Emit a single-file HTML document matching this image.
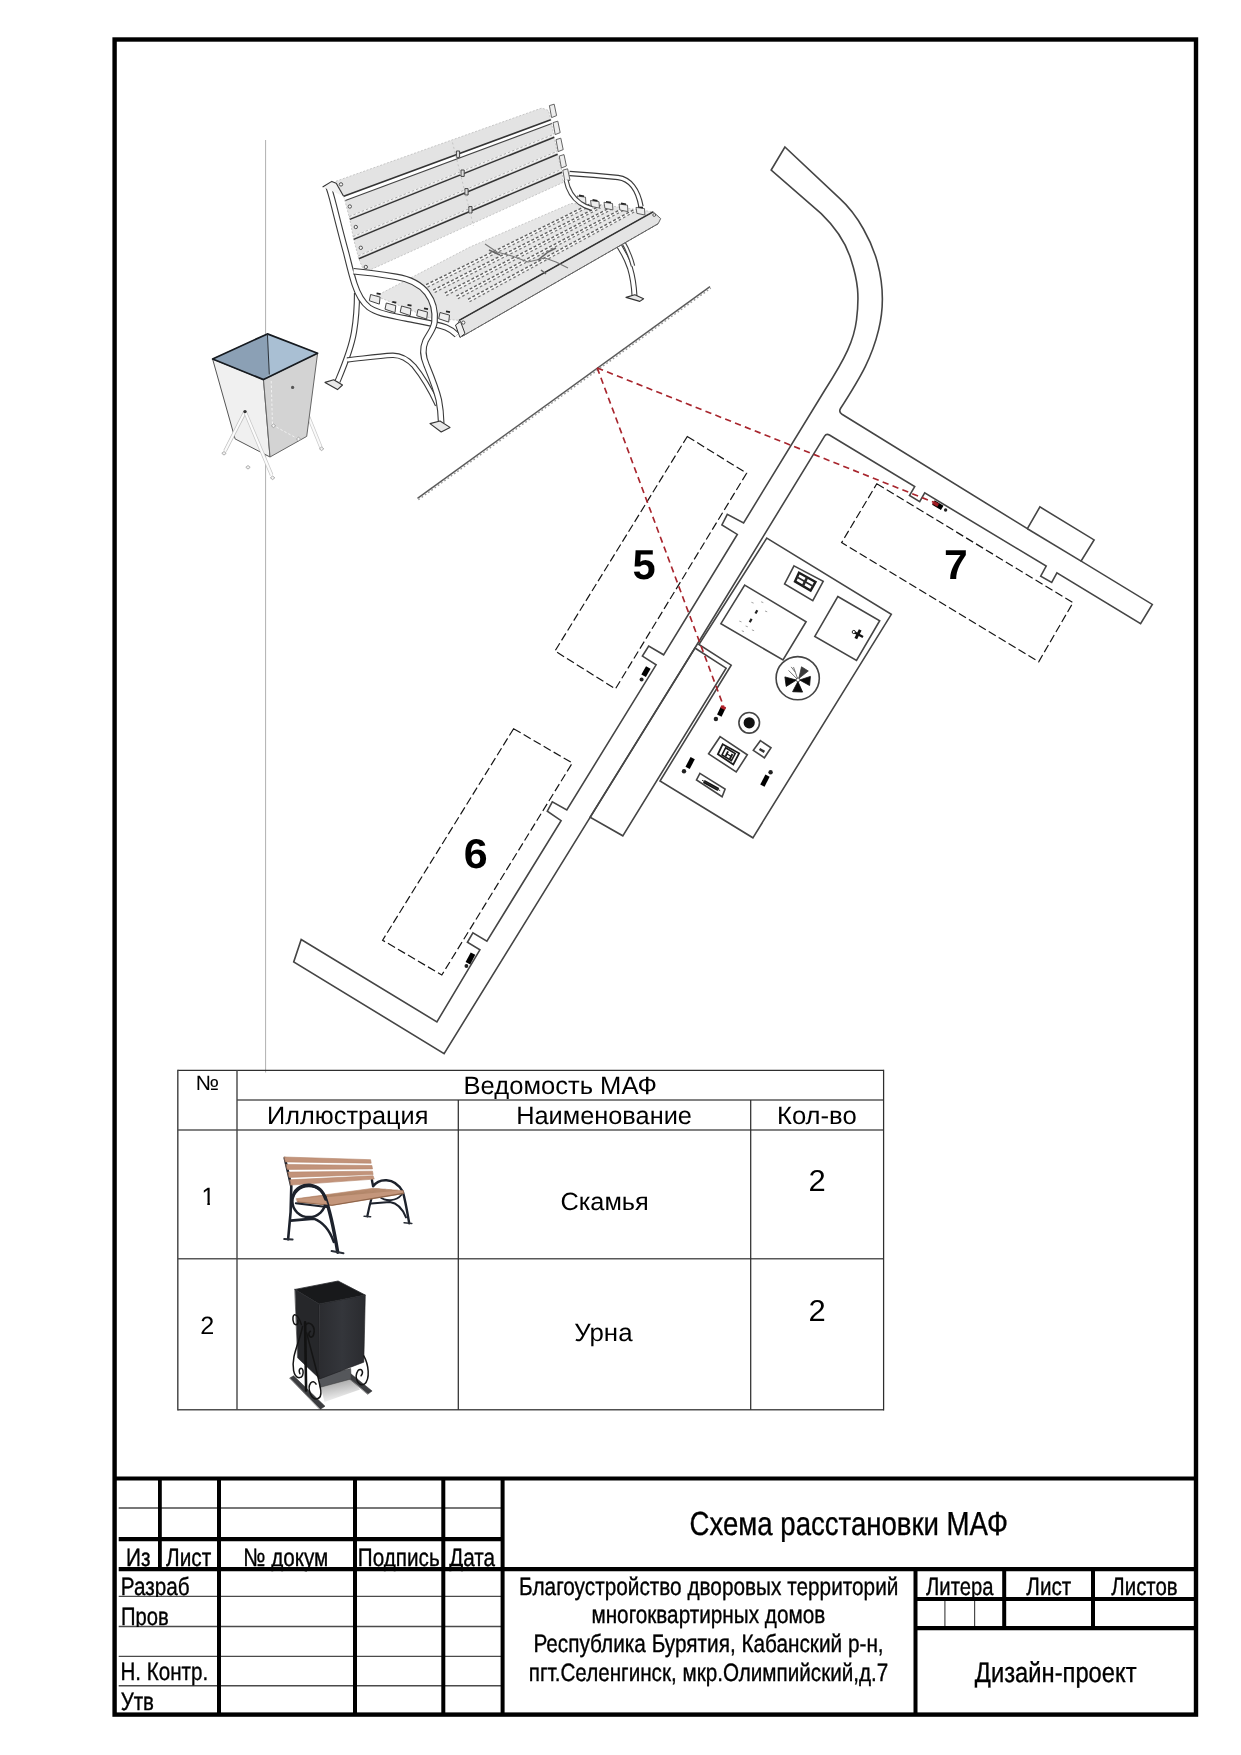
<!DOCTYPE html>
<html lang="ru">
<head>
<meta charset="utf-8">
<title>Схема расстановки МАФ</title>
<style>
html,body{margin:0;padding:0;background:#fff;}
body{width:1241px;height:1755px;overflow:hidden;}
svg{display:block;font-family:"Liberation Sans",sans-serif;will-change:transform;}
</style>
</head>
<body>
<svg width="1241" height="1755" viewBox="0 0 1241 1755">
<rect x="0" y="0" width="1241" height="1755" fill="#fff"/>
<!-- parts_sketch -->
<g stroke-linejoin="round">
<line x1="265.6" y1="140" x2="265.6" y2="1072.5" stroke="#b0b0b0" stroke-width="1.0"/>
<path d="M612 236 C620 246 626 256 630 268 C633 278 634 286 634.5 296" fill="none" stroke="#3c3c3c" stroke-width="6.0" stroke-linecap="butt" stroke-linejoin="round"/>
<path d="M612 236 C620 246 626 256 630 268 C633 278 634 286 634.5 296" fill="none" stroke="#fff" stroke-width="3.80" stroke-linecap="butt" stroke-linejoin="round"/>
<path d="M622 240 C628 250 631 258 633 266" fill="none" stroke="#444" stroke-width="4.5" stroke-linecap="butt" stroke-linejoin="round"/>
<path d="M622 240 C628 250 631 258 633 266" fill="none" stroke="#fff" stroke-width="2.30" stroke-linecap="butt" stroke-linejoin="round"/>
<path d="M626.0 297.4 L634.8 294.8 L643.6 298.7 L639.8 301.4 Z" stroke="#333" stroke-width="1.1" fill="#e8e8e8"/>
<path d="M336.0 181.2 L541.8 108.0 L548.5 110.5 L550.8 119.8 L554.2 137.3 L557.6 154.3 L562.0 172.3 L563.0 182.5 L364.5 272.5 L358.8 258.8 L353.7 239.4 L349.8 219.4 L343.8 196.3 Z" stroke="#bdbdbd" stroke-width="0.8" fill="#e3e3e3" stroke-dasharray="2 1.6"/>
<path d="M343.8 196.3 L550.8 119.8 L551.8 123.6 L345.4 200.6 Z" stroke="#fff" stroke-width="0.1" fill="#fff"/>
<line x1="343.8" y1="196.3" x2="550.8" y2="119.8" stroke="#333" stroke-width="1.5"/>
<line x1="345.4" y1="200.6" x2="551.8" y2="123.6" stroke="#444" stroke-width="1.1"/>
<line x1="349.2" y1="216.8" x2="553.6" y2="134.70000000000002" stroke="#f6f6f6" stroke-width="1.6"/>
<line x1="349.2" y1="216.5" x2="553.6" y2="134.4" stroke="#9a9a9a" stroke-width="0.8" stroke-dasharray="2.5 2"/>
<line x1="349.8" y1="219.4" x2="554.2" y2="137.3" stroke="#333" stroke-width="1.5"/>
<line x1="353.09999999999997" y1="236.8" x2="557.0" y2="151.70000000000002" stroke="#f6f6f6" stroke-width="1.6"/>
<line x1="353.09999999999997" y1="236.5" x2="557.0" y2="151.4" stroke="#9a9a9a" stroke-width="0.8" stroke-dasharray="2.5 2"/>
<line x1="353.7" y1="239.4" x2="557.6" y2="154.3" stroke="#333" stroke-width="1.5"/>
<line x1="358.2" y1="256.2" x2="561.4" y2="169.70000000000002" stroke="#f6f6f6" stroke-width="1.6"/>
<line x1="358.2" y1="255.9" x2="561.4" y2="169.4" stroke="#9a9a9a" stroke-width="0.8" stroke-dasharray="2.5 2"/>
<line x1="358.8" y1="258.8" x2="562.0" y2="172.3" stroke="#333" stroke-width="1.5"/>
<rect x="456.4" y="151.0" width="3.2" height="6.4" fill="#ddd" stroke="#444" stroke-width="1"/>
<rect x="461.0" y="170.0" width="3.2" height="6.4" fill="#ddd" stroke="#444" stroke-width="1"/>
<rect x="464.9" y="188.60000000000002" width="3.2" height="6.4" fill="#ddd" stroke="#444" stroke-width="1"/>
<rect x="468.79999999999995" y="206.60000000000002" width="3.2" height="6.4" fill="#ddd" stroke="#444" stroke-width="1"/>
<line x1="452.5" y1="142.5" x2="473.5" y2="226.0" stroke="#bbb" stroke-width="0.8" stroke-dasharray="2 2.5"/>
<path d="M549.4 105.6 L554.2 104.2 L556.6 115.6 L551.6 117.6 Z" fill="#eee" stroke="#555" stroke-width="0.9"/>
<path d="M553.0 122.6 L557.8 121.2 L560.2 132.6 L555.2 134.6 Z" fill="#eee" stroke="#555" stroke-width="0.9"/>
<path d="M556.0 139.6 L560.8 138.2 L563.2 149.6 L558.2 151.6 Z" fill="#eee" stroke="#555" stroke-width="0.9"/>
<path d="M559.2 156.0 L564.0 154.6 L566.4 166.0 L561.4 168.0 Z" fill="#eee" stroke="#555" stroke-width="0.9"/>
<path d="M562.8 170.2 L567.6 168.8 L570.0 180.2 L565.0 182.2 Z" fill="#eee" stroke="#555" stroke-width="0.9"/>
<circle cx="341.0" cy="184.4" r="1.7" fill="#f4f4f4" stroke="#444" stroke-width="0.9"/>
<circle cx="349.8" cy="206.5" r="1.7" fill="#f4f4f4" stroke="#444" stroke-width="0.9"/>
<circle cx="355.8" cy="227.0" r="1.7" fill="#f4f4f4" stroke="#444" stroke-width="0.9"/>
<circle cx="360.8" cy="247.8" r="1.7" fill="#f4f4f4" stroke="#444" stroke-width="0.9"/>
<circle cx="365.8" cy="267.0" r="1.7" fill="#f4f4f4" stroke="#444" stroke-width="0.9"/>
<path d="M376.0 296.0 L470.0 247.0 L571.0 203.5 L600.0 204.5 L653.1 211.8 L658.2 223.7 L462.4 336.2 L459.1 320.4 L430.0 318.0 Z" stroke="#bdbdbd" stroke-width="0.8" fill="#e6e6e6" stroke-dasharray="2 1.6"/>
<line x1="421.5512" y1="287.92212" x2="589.062" y2="205.326" stroke="#f7f7f7" stroke-width="2.6"/>
<line x1="421.5512" y1="286.92212" x2="589.062" y2="204.326" stroke="#606060" stroke-width="1.4" stroke-dasharray="3 2"/>
<line x1="423.0512" y1="289.42212" x2="589.062" y2="206.826" stroke="#757575" stroke-width="1.2" stroke-dasharray="2.6 2.4"/>
<line x1="433.1656" y1="291.02256" x2="600.556" y2="206.488" stroke="#f7f7f7" stroke-width="2.6"/>
<line x1="433.1656" y1="290.02256" x2="600.556" y2="205.488" stroke="#606060" stroke-width="1.4" stroke-dasharray="3 2"/>
<line x1="434.6656" y1="292.52256" x2="600.556" y2="207.988" stroke="#757575" stroke-width="1.2" stroke-dasharray="2.6 2.4"/>
<line x1="444.78000000000003" y1="294.123" x2="612.05" y2="207.65" stroke="#f7f7f7" stroke-width="2.6"/>
<line x1="444.78000000000003" y1="293.123" x2="612.05" y2="206.65" stroke="#606060" stroke-width="1.4" stroke-dasharray="3 2"/>
<line x1="446.28000000000003" y1="295.623" x2="612.05" y2="209.15" stroke="#757575" stroke-width="1.2" stroke-dasharray="2.6 2.4"/>
<line x1="456.3944" y1="297.22344" x2="623.544" y2="208.812" stroke="#f7f7f7" stroke-width="2.6"/>
<line x1="456.3944" y1="296.22344" x2="623.544" y2="207.812" stroke="#606060" stroke-width="1.4" stroke-dasharray="3 2"/>
<line x1="457.8944" y1="298.72344" x2="623.544" y2="210.312" stroke="#757575" stroke-width="1.2" stroke-dasharray="2.6 2.4"/>
<line x1="468.00880000000006" y1="300.32388" x2="635.038" y2="209.97400000000002" stroke="#f7f7f7" stroke-width="2.6"/>
<line x1="468.00880000000006" y1="299.32388" x2="635.038" y2="208.97400000000002" stroke="#606060" stroke-width="1.4" stroke-dasharray="3 2"/>
<line x1="469.50880000000006" y1="301.82388" x2="635.038" y2="211.47400000000002" stroke="#757575" stroke-width="1.2" stroke-dasharray="2.6 2.4"/>
<path d="M459.1 320.4 L653.1 211.8 L660.7 218.6 L658.2 223.7 L462.4 336.2 L456.5 327.5 Z" stroke="#555" stroke-width="0.9" fill="#e4e4e4"/>
<line x1="459.1" y1="320.4" x2="653.1" y2="211.8" stroke="#333" stroke-width="1.5"/>
<line x1="462.4" y1="336.2" x2="658.2" y2="223.7" stroke="#666" stroke-width="1.0" stroke-dasharray="3 1.2"/>
<circle cx="463.3" cy="322.6" r="1.6" fill="#fff" stroke="#444" stroke-width="0.9"/>
<circle cx="654.2" cy="215.0" r="1.4" fill="#fff" stroke="#444" stroke-width="0.9"/>
<path d="M485 244 L497 252 L512 256 L528 262 L545 258 L556 262 L568 268" stroke="#777" stroke-width="1.1" fill="none"/>
<path d="M489 250 L500 255 M538 260 L548 252 L556 248 M541 270 L546 274" stroke="#666" stroke-width="1.6" fill="none"/>
<path d="M370.6 294.5 l9.5 2.6 l-0.8 7 l-10 -3.4 Z" fill="#ededed" stroke="#444" stroke-width="1"/>
<path d="M376.6 293.3 l4 0.8" stroke="#222" stroke-width="1.8" fill="none"/>
<path d="M386.3 303.0 l9.5 2.6 l-0.8 7 l-10 -3.4 Z" fill="#ededed" stroke="#444" stroke-width="1"/>
<path d="M392.3 301.8 l4 0.8" stroke="#222" stroke-width="1.8" fill="none"/>
<path d="M401.5 306.0 l9.5 2.6 l-0.8 7 l-10 -3.4 Z" fill="#ededed" stroke="#444" stroke-width="1"/>
<path d="M407.5 304.8 l4 0.8" stroke="#222" stroke-width="1.8" fill="none"/>
<path d="M418.0 309.5 l9.5 2.6 l-0.8 7 l-10 -3.4 Z" fill="#ededed" stroke="#444" stroke-width="1"/>
<path d="M424.0 308.3 l4 0.8" stroke="#222" stroke-width="1.8" fill="none"/>
<path d="M440.0 312.5 l9.5 2.6 l-0.8 7 l-10 -3.4 Z" fill="#ededed" stroke="#444" stroke-width="1"/>
<path d="M446.0 311.3 l4 0.8" stroke="#222" stroke-width="1.8" fill="none"/>
<path d="M577.0 196.0 l8.5 1.2 l0.4 6.4 l-8 -1.6 Z" fill="#ededed" stroke="#555" stroke-width="0.9"/>
<path d="M579.0 195.4 l5 0.8" stroke="#222" stroke-width="1.6" fill="none"/>
<path d="M590.5 200.5 l8.5 1.2 l0.4 6.4 l-8 -1.6 Z" fill="#ededed" stroke="#555" stroke-width="0.9"/>
<path d="M592.5 199.9 l5 0.8" stroke="#222" stroke-width="1.6" fill="none"/>
<path d="M604.0 202.3 l8.5 1.2 l0.4 6.4 l-8 -1.6 Z" fill="#ededed" stroke="#555" stroke-width="0.9"/>
<path d="M606.0 201.7 l5 0.8" stroke="#222" stroke-width="1.6" fill="none"/>
<path d="M619.0 204.0 l8.5 1.2 l0.4 6.4 l-8 -1.6 Z" fill="#ededed" stroke="#555" stroke-width="0.9"/>
<path d="M621.0 203.4 l5 0.8" stroke="#222" stroke-width="1.6" fill="none"/>
<path d="M636.0 207.4 l8.5 1.2 l0.4 6.4 l-8 -1.6 Z" fill="#ededed" stroke="#555" stroke-width="0.9"/>
<path d="M638.0 206.8 l5 0.8" stroke="#222" stroke-width="1.6" fill="none"/>
<path d="M566 180 C568 190 573 198 580 203 C584 206 588 207.5 592 208.5" fill="none" stroke="#444" stroke-width="5.0" stroke-linecap="butt" stroke-linejoin="round"/>
<path d="M566 180 C568 190 573 198 580 203 C584 206 588 207.5 592 208.5" fill="none" stroke="#fff" stroke-width="2.80" stroke-linecap="butt" stroke-linejoin="round"/>
<path d="M569.5 173.5 C585 174.5 603 176 618 177.5 C630 179 638 190 641 206.5" fill="none" stroke="#3a3a3a" stroke-width="5.4" stroke-linecap="butt" stroke-linejoin="round"/>
<path d="M569.5 173.5 C585 174.5 603 176 618 177.5 C630 179 638 190 641 206.5" fill="none" stroke="#fff" stroke-width="3.20" stroke-linecap="butt" stroke-linejoin="round"/>
<path d="M357 293 C357 306 356 320 354 332 C351 350 344 366 337.5 381.5" fill="none" stroke="#3a3a3a" stroke-width="6.2" stroke-linecap="butt" stroke-linejoin="round"/>
<path d="M357 293 C357 306 356 320 354 332 C351 350 344 366 337.5 381.5" fill="none" stroke="#fff" stroke-width="4.00" stroke-linecap="butt" stroke-linejoin="round"/>
<path d="M325.0 382.4 L333.7 379.8 L342.5 385.0 L337.5 389.6 Z" stroke="#333" stroke-width="1.1" fill="#e8e8e8"/>
<path d="M347 360 C362 358.5 378 356 392.4 355.3 C402 355 408 359.5 414 366 C423 377 430 389 437.5 405" fill="none" stroke="#3a3a3a" stroke-width="5.4" stroke-linecap="butt" stroke-linejoin="round"/>
<path d="M347 360 C362 358.5 378 356 392.4 355.3 C402 355 408 359.5 414 366 C423 377 430 389 437.5 405" fill="none" stroke="#fff" stroke-width="3.20" stroke-linecap="butt" stroke-linejoin="round"/>
<path d="M327.5 184.5 C330 190 332 198 334 206 C338 222 342 238 346.2 253 C349 264 351 273 354.5 284 C358 295 362 302 369 307.5 C378 314 392 315.5 406 318.5 C420 321.5 434 323 446 327.5 C451 329.5 454 332 457 335" fill="none" stroke="#3a3a3a" stroke-width="6.4" stroke-linecap="butt" stroke-linejoin="round"/>
<path d="M327.5 184.5 C330 190 332 198 334 206 C338 222 342 238 346.2 253 C349 264 351 273 354.5 284 C358 295 362 302 369 307.5 C378 314 392 315.5 406 318.5 C420 321.5 434 323 446 327.5 C451 329.5 454 332 457 335" fill="none" stroke="#fff" stroke-width="4.20" stroke-linecap="butt" stroke-linejoin="round"/>
<path d="M322.6 187.0 L331.8 181.4 L336.2 183.2 L343.6 196.2" stroke="#333" stroke-width="1.1" fill="#f2f2f2"/>
<path d="M353.5 271.3 C368 272.5 382 274.5 396 276.8 C410 279 420 284 427 293 C433 301 435.5 312 434.5 322 C433.8 329 429 334 425.5 341 C422 349 423 357 426.5 365 C431 376 436 388 438.8 400 C440.4 408 441 415 441.2 423" fill="none" stroke="#3a3a3a" stroke-width="6.6" stroke-linecap="butt" stroke-linejoin="round"/>
<path d="M353.5 271.3 C368 272.5 382 274.5 396 276.8 C410 279 420 284 427 293 C433 301 435.5 312 434.5 322 C433.8 329 429 334 425.5 341 C422 349 423 357 426.5 365 C431 376 436 388 438.8 400 C440.4 408 441 415 441.2 423" fill="none" stroke="#fff" stroke-width="4.40" stroke-linecap="butt" stroke-linejoin="round"/>
<path d="M430.0 423.6 L440.0 421.0 L450.0 427.4 L441.2 432.0 Z" stroke="#333" stroke-width="1.1" fill="#e8e8e8"/>
<path d="M455.5 325.0 L460.5 321.5 L465.0 333.5 L460.0 337.5 Z" stroke="#333" stroke-width="1.0" fill="#f0f0f0"/>
<path d="M308.6 417 L321.0 447.5" fill="none" stroke="#c9c9c9" stroke-width="3.4" stroke-linecap="butt" stroke-linejoin="round"/>
<path d="M308.6 417 L321.0 447.5" fill="none" stroke="#fafafa" stroke-width="2.00" stroke-linecap="butt" stroke-linejoin="round"/>
<path d="M212.6 359.0 L263.5 379.6 L270.0 457.0 L235.1 438.9 Z" stroke="#555" stroke-width="1.0" fill="#f0f0f0"/>
<path d="M263.5 379.6 L317.6 353.2 L306.7 436.4 L270.0 457.0 Z" stroke="#666" stroke-width="1.0" fill="#d3d3d3"/>
<path d="M271.2 381 L272.5 425 M272.5 425 L300 440" stroke="#f3f3f3" stroke-width="0.9" fill="none" stroke-dasharray="2.5 2"/>
<path d="M212.6 359.0 L267.4 333.9 L269.3 374.5 L263.5 379.6 Z" stroke="#7f93a6" stroke-width="0.6" fill="#8ba0b5"/>
<path d="M267.4 333.9 L317.6 353.2 L263.5 379.6 L269.3 374.5 Z" stroke="#9fb5c8" stroke-width="0.6" fill="#a9bfd3"/>
<path d="M212.6 359.0 L267.4 333.9 L317.6 353.2 L263.5 379.6 Z" stroke="#161a1f" stroke-width="1.7" fill="none"/>
<line x1="267.4" y1="333.9" x2="269.3" y2="374.5" stroke="#2a3138" stroke-width="1.0"/>
<path d="M244.6 412.6 L225.0 451.0" fill="none" stroke="#bdbdbd" stroke-width="3.6" stroke-linecap="butt" stroke-linejoin="round"/>
<path d="M244.6 412.6 L225.0 451.0" fill="none" stroke="#fbfbfb" stroke-width="2.20" stroke-linecap="butt" stroke-linejoin="round"/>
<path d="M245.4 412.6 L271.6 475.0" fill="none" stroke="#c4c4c4" stroke-width="3.6" stroke-linecap="butt" stroke-linejoin="round"/>
<path d="M245.4 412.6 L271.6 475.0" fill="none" stroke="#fbfbfb" stroke-width="2.20" stroke-linecap="butt" stroke-linejoin="round"/>
<circle cx="245.0" cy="411.6" r="1.7" fill="#333"/>
<circle cx="292.6" cy="387.4" r="1.6" fill="#555"/>
<path d="M221.8 453.3 l2.2 -1.8 l2.2 1.8 l-2.2 1.8 Z" fill="#f4f4f4" stroke="#999" stroke-width="0.8"/>
<path d="M270.4 477.8 l2.2 -1.8 l2.2 1.8 l-2.2 1.8 Z" fill="#f4f4f4" stroke="#999" stroke-width="0.8"/>
<path d="M319.4 448.8 l2.2 -1.8 l2.2 1.8 l-2.2 1.8 Z" fill="#f4f4f4" stroke="#999" stroke-width="0.8"/>
<path d="M245.8 467.3 l2.2 -1.8 l2.2 1.8 l-2.2 1.8 Z" fill="#f4f4f4" stroke="#999" stroke-width="0.8"/>
<path d="M271.3 425.8 l2.2 -1.8 l2.2 1.8 l-2.2 1.8 Z" fill="#f4f4f4" stroke="#999" stroke-width="0.8"/>
<path d="M296.3 439.0 l2.2 -1.8 l2.2 1.8 l-2.2 1.8 Z" fill="#f4f4f4" stroke="#999" stroke-width="0.8"/>
</g>
<!-- parts_map -->
<line x1="417.5" y1="498.3" x2="710.0" y2="286.7" stroke="#5a5a5a" stroke-width="1.5"/>
<line x1="418.4" y1="499.7" x2="710.8" y2="288.1" stroke="#9a9a9a" stroke-width="1.4" stroke-dasharray="1.7 2.3"/>
<path d="M771.2 170 L784.9 147 L839.9 198.7 C858 215 872 242 877.4 262.4 C884 287 884 308 878.6 329.9 C872 357 862 375 840.5 408.5 Q838.5 412 842 414.3 L1027.4 528.7 L1039.9 506.9 L1094.1 539.9 L1081.1 561.1 L1152.3 604.4 L1140.6 623.6 L1056.9 572.9 L1051.7 582.4 L1040.7 576.1 L1046.2 566.1 L924.7 492.9 L919.7 501.6 L909.5 495.5 L914.7 486.6 L829.4 435.0 Q826.4 433.2 824.6 436.2 L694.9 648 L590.1 817.3 L444.1 1053.6 L293.7 961.9 L301.2 939.5 L436.9 1021.9 L479.9 949.8 L467.4 942.3 L472.9 932.8 L486.9 941.1 L561.1 820.7 L547.3 811.2 L552.3 801.9 L566.8 809.9 L656.1 664.8 L642.4 656.1 L648.7 646.1 L663.6 654.8 L737.3 534.4 L721.9 524.9 L727.3 514.4 L743.6 522.9 L824.9 390 C846 357 854 340 856.5 320 C859.5 296 858 281 851.1 259.9 C845 240 834 226 821.2 213.7 Z" stroke="#454545" stroke-width="1.6" fill="none"/>
<line x1="1027.4" y1="528.7" x2="1081.1" y2="561.1" stroke="#454545" stroke-width="1.6"/>
<path d="M694.9 648.0 L726.1 668.2 L622.8 835.8 L590.1 817.3 Z" stroke="#454545" stroke-width="1.6" fill="none"/>
<path d="M766.8 538.1 L891.3 614.3 L752.9 837.8 L660.0 781.0 L731.2 665.2 L698.9 644.5 Z" stroke="#454545" stroke-width="1.6" fill="none"/>
<path d="M744.7 585.1 L806.1 621.7 L783.0 660.0 L720.9 623.7 Z" stroke="#454545" stroke-width="1.6" fill="none"/>
<path d="M837.8 596.5 L879.7 620.7 L856.5 660.4 L814.8 636.4 Z" stroke="#454545" stroke-width="1.6" fill="none"/>
<path d="M794.0 565.9 L823.2 581.4 L812.8 600.6 L784.6 584.0 Z" stroke="#454545" stroke-width="1.6" fill="none"/>
<circle cx="797.7" cy="678.2" r="21.6" fill="#fff" stroke="#454545" stroke-width="1.6"/>
<circle cx="749.2" cy="722.8" r="10.3" fill="#fff" stroke="#454545" stroke-width="1.6"/>
<circle cx="749.2" cy="722.8" r="5.6" fill="#111"/>
<path d="M720.1 736.7 L747.3 754.8 L736.2 772.0 L708.6 753.8 Z" stroke="#454545" stroke-width="1.6" fill="none"/>
<path d="M760.4 740.7 L771.0 747.8 L764.4 757.8 L753.3 750.4 Z" stroke="#454545" stroke-width="1.6" fill="none"/>
<path d="M699.9 773.4 L725.1 789.1 L722.1 796.7 L696.5 780.0 Z" stroke="#454545" stroke-width="1.6" fill="none"/>
<line x1="723.4" y1="707.2" x2="719.3" y2="715.6" stroke="#000" stroke-width="5.0"/>
<line x1="723.9" y1="706.2" x2="722.6" y2="708.9" stroke="#b3202a" stroke-width="5.0"/>
<circle cx="715.9" cy="719.0" r="2.2" fill="#222"/>
<line x1="692.7" y1="758.2" x2="687.6" y2="767.8" stroke="#000" stroke-width="4.8"/>
<circle cx="684.0" cy="771.3" r="2.2" fill="#222"/>
<line x1="767.5" y1="775.6" x2="762.4" y2="785.7" stroke="#000" stroke-width="4.8"/>
<circle cx="770.6" cy="772.2" r="2.2" fill="#222"/>
<line x1="648.3" y1="667.4" x2="643.6" y2="675.8" stroke="#000" stroke-width="5.2"/>
<circle cx="641.6" cy="679.6" r="2.0" fill="#222"/>
<line x1="473.0" y1="953.6" x2="467.9" y2="963.2" stroke="#000" stroke-width="5.2"/>
<circle cx="466.4" cy="966.0" r="1.9" fill="#222"/>
<line x1="933.4" y1="502.5" x2="942.2" y2="507.8" stroke="#000" stroke-width="5.0"/>
<line x1="933.0" y1="502.2" x2="938.2" y2="505.3" stroke="#9e1b22" stroke-width="3.4"/>
<circle cx="945.6" cy="510.0" r="1.7" fill="#222"/>
<path d="M799.0 572.7 L815.5 581.9 L810.6 590.6 L795.0 581.4 Z" stroke="#1c1c1c" stroke-width="2.4" fill="none"/>
<line x1="807.2" y1="577.3" x2="802.8" y2="586.0" stroke="#2a2a2a" stroke-width="2.6"/>
<line x1="797.0" y1="577.0" x2="813.0" y2="586.2" stroke="#2a2a2a" stroke-width="1.8"/>
<line x1="853.0" y1="631.5" x2="863.0" y2="637.0" stroke="#111" stroke-width="2.4"/>
<line x1="860.2" y1="629.8" x2="855.8" y2="638.6" stroke="#111" stroke-width="3.0"/>
<circle cx="853.8" cy="632.0" r="1.6" fill="#fff" stroke="#111" stroke-width="0.9"/>
<line x1="757.3" y1="610.2" x2="755.5" y2="613.6" stroke="#222" stroke-width="2.2"/>
<line x1="751.6" y1="618.9" x2="749.7" y2="622.3" stroke="#222" stroke-width="2.2"/>
<line x1="751.4" y1="602.3000000000001" x2="753.6" y2="603.1" stroke="#999" stroke-width="0.9"/>
<line x1="761.1" y1="601.8000000000001" x2="763.3000000000001" y2="602.6" stroke="#999" stroke-width="0.9"/>
<line x1="765.0" y1="611.0" x2="767.2" y2="611.8" stroke="#999" stroke-width="0.9"/>
<line x1="739.3" y1="621.1" x2="741.5" y2="621.9" stroke="#999" stroke-width="0.9"/>
<line x1="745.6" y1="626.0" x2="747.8000000000001" y2="626.8" stroke="#999" stroke-width="0.9"/>
<line x1="751.9" y1="629.9" x2="754.1" y2="630.6999999999999" stroke="#999" stroke-width="0.9"/>
<line x1="741.8" y1="630.8000000000001" x2="744.0" y2="631.6" stroke="#999" stroke-width="0.9"/>
<path d="M797.9 681.5 L792.6 691.7 L802.6 692.1 Z" stroke="#0a0a0a" stroke-width="0.8" fill="#0a0a0a"/>
<path d="M796.4 680.1 L784.9 676.9 L786.2 686.4 Z" stroke="#0a0a0a" stroke-width="0.8" fill="#0a0a0a"/>
<path d="M799.6 680.0 L809.6 685.5 L810.4 676.4 Z" stroke="#0a0a0a" stroke-width="0.8" fill="#0a0a0a"/>
<path d="M798.8 678.5 L808.3 671.0 L801.5 666.8 Z" stroke="#3a3a3a" stroke-width="0.8" fill="#3a3a3a"/>
<path d="M798.0 679.9 L793.5 667.1 M795.0 671.9 L791.2 666.9 M798.0 679.9 L788.5 670.4" stroke="#555" stroke-width="0.8" fill="none"/>
<circle cx="798.0" cy="679.9" r="1.9" fill="#fff" stroke="#222" stroke-width="0.7"/>
<path d="M722.7 744.2 L739.1 753.3 L733.3 764.5 L717.9 754.3 Z" stroke="#1a1a1a" stroke-width="1.8" fill="none"/>
<path d="M725.6 747.8 L735.2 753.6 L731.4 760.6 L722.0 754.9 Z" stroke="#1a1a1a" stroke-width="1.6" fill="none"/>
<line x1="728.0" y1="751.4" x2="725.6" y2="756.3" stroke="#1a1a1a" stroke-width="1.9"/>
<line x1="732.4" y1="754.0" x2="729.8" y2="759.0" stroke="#1a1a1a" stroke-width="1.9"/>
<line x1="726.8" y1="753.8" x2="731.2" y2="756.5" stroke="#1a1a1a" stroke-width="1.3"/>
<line x1="759.5" y1="749.0" x2="764.4" y2="751.9" stroke="#333" stroke-width="2.6"/>
<line x1="703.8" y1="781.4" x2="718.4" y2="789.6" stroke="#111" stroke-width="3.4"/>
<line x1="702.0" y1="780.2" x2="720.2" y2="790.7" stroke="#333" stroke-width="1.0"/>
<path d="M687.3 436.5 L746.6 473.2 L615.4 688.9 L555.0 651.0 Z" stroke="#151515" stroke-width="1.2" fill="none" stroke-dasharray="8.2 3.4"/>
<path d="M876.8 483.8 L1073.0 602.6 L1038.7 661.8 L841.6 542.6 Z" stroke="#151515" stroke-width="1.2" fill="none" stroke-dasharray="8.2 3.4"/>
<path d="M513.6 728.7 L572.3 763.0 L441.8 975.0 L382.6 940.2 Z" stroke="#151515" stroke-width="1.2" fill="none" stroke-dasharray="8.2 3.4"/>
<line x1="597.2" y1="367.9" x2="934.0" y2="502.4" stroke="#a8252d" stroke-width="1.65" stroke-dasharray="6.3 4.3"/>
<line x1="597.2" y1="367.9" x2="723.6" y2="706.4" stroke="#a8252d" stroke-width="1.65" stroke-dasharray="6.3 4.3"/>
<text transform="translate(632.46 579) scale(0.9977 1)" font-size="41.67" font-weight="bold" fill="#000" text-rendering="geometricPrecision">5</text>
<text transform="translate(944.12 579) scale(1.0239 1)" font-size="41.67" font-weight="bold" fill="#000" text-rendering="geometricPrecision">7</text>
<text transform="translate(463.80 868) scale(1.0335 1)" font-size="41.67" font-weight="bold" fill="#000" text-rendering="geometricPrecision">6</text>
<!-- parts_table -->
<line x1="237.0" y1="1100.0" x2="883.6" y2="1100.0" stroke="#585858" stroke-width="1.6"/>
<line x1="177.8" y1="1130.0" x2="883.6" y2="1130.0" stroke="#585858" stroke-width="1.6"/>
<line x1="177.8" y1="1258.8" x2="883.6" y2="1258.8" stroke="#585858" stroke-width="1.6"/>
<line x1="177.8" y1="1409.8" x2="883.6" y2="1409.8" stroke="#505050" stroke-width="1.6"/>
<line x1="177.8" y1="1070.3" x2="883.6" y2="1070.3" stroke="#2e2e2e" stroke-width="1.25"/>
<line x1="177.8" y1="1069.7" x2="177.8" y2="1410.6" stroke="#4a4a4a" stroke-width="1.5"/>
<line x1="883.6" y1="1069.7" x2="883.6" y2="1410.6" stroke="#2e2e2e" stroke-width="1.25"/>
<line x1="237.0" y1="1070.3" x2="237.0" y2="1409.8" stroke="#454545" stroke-width="1.4"/>
<line x1="458.3" y1="1100.0" x2="458.3" y2="1409.8" stroke="#2e2e2e" stroke-width="1.25"/>
<line x1="750.7" y1="1100.0" x2="750.7" y2="1409.8" stroke="#2e2e2e" stroke-width="1.25"/>
<text transform="translate(195.61 1090) scale(1.0570 1)" font-size="20.83" fill="#000" text-rendering="geometricPrecision">№</text>
<text transform="translate(463.54 1094) scale(1.0226 1)" font-size="25" fill="#000" text-rendering="geometricPrecision">Ведомость МАФ</text>
<text transform="translate(267.11 1124) scale(1.0115 1)" font-size="25" fill="#000" text-rendering="geometricPrecision">Иллюстрация</text>
<text transform="translate(516.15 1124) scale(1.0141 1)" font-size="25" fill="#000" text-rendering="geometricPrecision">Наименование</text>
<text transform="translate(776.97 1124) scale(1.0253 1)" font-size="25" fill="#000" text-rendering="geometricPrecision">Кол-во</text>
<clipPath id="tc1"><path d="M196 1180 H218 V1202.6 H209.9 V1207 H207.3 V1202.6 H196 Z"/></clipPath>
<g clip-path="url(#tc1)"><text transform="translate(201.49 1205) scale(0.9600 1)" font-size="25" fill="#000" text-rendering="geometricPrecision">1</text></g>
<text transform="translate(200.25 1334) scale(1.0092 1)" font-size="25" fill="#000" text-rendering="geometricPrecision">2</text>
<text transform="translate(560.38 1210) scale(1.0139 1)" font-size="25" fill="#000" text-rendering="geometricPrecision">Скамья</text>
<text transform="translate(574.25 1341) scale(1.0332 1)" font-size="25" fill="#000" text-rendering="geometricPrecision">Урна</text>
<text transform="translate(808.45 1191) scale(1.0265 1)" font-size="30.2" fill="#000" text-rendering="geometricPrecision">2</text>
<text transform="translate(808.45 1321) scale(1.0265 1)" font-size="30.2" fill="#000" text-rendering="geometricPrecision">2</text>
<!-- parts_photo -->
<g stroke-linecap="round" stroke-linejoin="round">
<path d="M371.9 1180.0 L373.1 1186.4 C378.3 1178.7 393.8 1176.1 402.8 1191.6 C405.4 1200.6 407.3 1212.2 409.2 1223.2" fill="none" stroke="#1d222c" stroke-width="2.4"/>
<path d="M371.9 1196.7 L369.3 1207.0 L367.3 1216.3" fill="none" stroke="#1d222c" stroke-width="2.2"/>
<path d="M371.2 1203.4 L389.9 1202.1 C397.6 1203.2 402.8 1209.6 406.0 1217.4" fill="none" stroke="#1d222c" stroke-width="2.0"/>
<path d="M379.6 1196.7 C386.0 1201.9 396.4 1201.2 401.5 1194.8" fill="none" stroke="#1d222c" stroke-width="1.8"/>
<path d="M364.1 1216.3 L370.6 1216.8 M404.1 1222.8 L411.8 1223.5" fill="none" stroke="#2a2f38" stroke-width="1.6"/>
<path d="M284.8 1158.1 L291.3 1186.4 L290.6 1212.2 L288.1 1239.3" fill="none" stroke="#1d222c" stroke-width="2.6"/>
<path d="M284.2 1157.0 L370.6 1159.7 L371.2 1163.2 L285.5 1161.9 Z" stroke="#b48569" stroke-width="0.6" fill="#c2937a"/>
<path d="M286.1 1164.4 L371.9 1165.5 L372.5 1168.9 L287.4 1169.4 Z" stroke="#b48569" stroke-width="0.6" fill="#c2937a"/>
<path d="M288.1 1172.1 L372.5 1171.2 L373.1 1174.6 L289.3 1177.4 Z" stroke="#b48569" stroke-width="0.6" fill="#c2937a"/>
<path d="M290.0 1179.8 L373.1 1175.8 L374.2 1179.1 L290.9 1185.1 Z" stroke="#b48569" stroke-width="0.6" fill="#c2937a"/>
<path d="M296.4 1198.7 L373.1 1188.3 L403.4 1190.7 L403.4 1193.6 L331.9 1205.5 L297.7 1202.1 Z" stroke="#b48569" stroke-width="0.6" fill="#c4967b"/>
<path d="M297.7 1201.9 L331.9 1205.2 L403.4 1193.4" fill="none" stroke="#8e6449" stroke-width="1.1"/>
<path d="M302.5 1198.4 L379.2 1188.8" fill="none" stroke="#a57a5c" stroke-width="0.5"/>
<path d="M308.6 1198.0 L385.3 1189.3" fill="none" stroke="#a57a5c" stroke-width="0.5"/>
<path d="M314.6 1197.7 L391.3 1189.7" fill="none" stroke="#a57a5c" stroke-width="0.5"/>
<path d="M320.7 1197.4 L397.4 1190.2" fill="none" stroke="#a57a5c" stroke-width="0.5"/>
<ellipse cx="308.9" cy="1201.6" rx="16.5" ry="15.5" fill="none" stroke="#1d222c" stroke-width="2.5"/>
<path d="M324.8 1196.7 C330.6 1212.2 334.5 1232.8 337.7 1252.2" fill="none" stroke="#1d222c" stroke-width="3.4"/>
<path d="M290.6 1220.6 L313.8 1218.6 C324.2 1222.5 330.6 1232.8 333.8 1241.9" fill="none" stroke="#1d222c" stroke-width="2.6"/>
<path d="M295.8 1203.2 L326.7 1207.0" fill="none" stroke="#1d222c" stroke-width="2.0"/>
<path d="M284.2 1239.0 L292.6 1239.5 M331.6 1251.1 L343.5 1253.2" fill="none" stroke="#2a2f38" stroke-width="2.0"/>
<path d="M297.7 1199.1 L324.2 1195.7 L327.4 1204.5 L299.0 1201.6 Z" stroke="#b48569" stroke-width="0.4" fill="#c4967b"/>
<path d="M293.2 1195.4 C295.8 1187.7 303.5 1184.5 310.0 1185.1 C317.7 1186.2 323.5 1191.6 325.7 1199.3" fill="none" stroke="#1d222c" stroke-width="3.0"/>
</g>
<defs><linearGradient id="ushadow" x1="0" y1="0" x2="0.3" y2="1"><stop offset="0" stop-color="#8a8a8a"/><stop offset="1" stop-color="#f4f4f4"/></linearGradient><linearGradient id="uface" x1="0" y1="0" x2="1" y2="0"><stop offset="0" stop-color="#2b2c30"/><stop offset="0.5" stop-color="#34363b"/><stop offset="1" stop-color="#2a2b2f"/></linearGradient></defs>
<g stroke-linecap="round" stroke-linejoin="round">
<path d="M319.2 1381.0 L350.7 1375.8 L360.1 1389.4 L324.5 1402.0 Z" stroke="none" stroke-width="0" fill="url(#ushadow)"/>
<path d="M289.9 1377.9 L293.6 1375.8 L325.0 1406.2 L320.3 1409.3 Z" stroke="#2c2c2c" stroke-width="0.5" fill="#3c3d40"/>
<path d="M343.3 1373.2 L347.5 1371.1 L372.1 1391.0 L367.9 1394.1 Z" stroke="#2c2c2c" stroke-width="0.5" fill="#3c3d40"/>
<path d="M319.2 1375.8 L350.7 1368.5 L351.2 1378.9 L320.3 1387.3 Z" stroke="#3a3a3a" stroke-width="0.5" fill="#55575b"/>
<path d="M295.1 1289.4 L319.2 1304.0 L319.8 1378.9 L297.8 1358.0 Z" stroke="#1e1f22" stroke-width="0.6" fill="#26272a"/>
<path d="M319.2 1304.0 L365.3 1295.1 L363.8 1362.2 L319.8 1378.9 Z" stroke="#1e1f22" stroke-width="0.6" fill="url(#uface)"/>
<path d="M295.1 1289.4 L338.1 1281.0 L365.3 1295.1 L319.2 1304.0 Z" stroke="#2c2d31" stroke-width="0.8" fill="#18191b"/>
<path d="M305.1 1322.4 L306.1 1390.5" fill="none" stroke="#121212" stroke-width="2.6"/>
<path d="M306.1 1324.5 C309.8 1320.3 316.1 1326.6 313.5 1334.9 C311.4 1340.2 306.7 1334.9 310.3 1331.3" fill="none" stroke="#141414" stroke-width="1.6"/>
<path d="M301.4 1324.5 C296.2 1309.8 291.0 1314.0 293.6 1322.4 C295.1 1326.6 298.8 1324.5 297.8 1320.3" fill="none" stroke="#141414" stroke-width="1.5"/>
<path d="M302.5 1326.6 C299.3 1343.3 291.0 1355.9 293.6 1370.6 C295.7 1381.0 304.6 1378.9 303.0 1370.6 C302.0 1366.4 297.8 1368.5 299.9 1373.7" fill="none" stroke="#141414" stroke-width="1.5"/>
<path d="M306.7 1332.9 C311.9 1353.8 318.2 1374.8 320.8 1390.5 C321.9 1399.9 314.0 1402.0 310.3 1393.6 C306.7 1384.2 312.9 1377.9 316.1 1384.2" fill="none" stroke="#141414" stroke-width="1.5"/>
<path d="M363.8 1355.9 C368.5 1364.3 370.6 1378.9 364.3 1384.2 C358.0 1387.3 353.8 1376.9 358.0 1370.6 C361.1 1367.4 364.3 1371.6 361.1 1375.8" fill="none" stroke="#141414" stroke-width="1.5"/>
</g>
<!-- parts_frame -->
<rect x="114.6" y="39.5" width="1081.4" height="1675.1" fill="none" stroke="#000" stroke-width="4.4"/>
<line x1="118.7" y1="1508.0" x2="502.6" y2="1508.0" stroke="#4a4a4a" stroke-width="1.35"/>
<line x1="118.7" y1="1596.4" x2="502.6" y2="1596.4" stroke="#4a4a4a" stroke-width="1.35"/>
<line x1="118.7" y1="1626.5" x2="502.6" y2="1626.5" stroke="#4a4a4a" stroke-width="1.35"/>
<line x1="118.7" y1="1656.4" x2="502.6" y2="1656.4" stroke="#4a4a4a" stroke-width="1.35"/>
<line x1="118.7" y1="1685.7" x2="502.6" y2="1685.7" stroke="#4a4a4a" stroke-width="1.35"/>
<line x1="944.9" y1="1599" x2="944.9" y2="1628.2" stroke="#4a4a4a" stroke-width="1.2"/>
<line x1="974.6" y1="1599" x2="974.6" y2="1628.2" stroke="#4a4a4a" stroke-width="1.2"/>
<line x1="114.6" y1="1478.5" x2="1196.0" y2="1478.5" stroke="#000" stroke-width="4.2"/>
<line x1="118.7" y1="1569.1" x2="1196.0" y2="1569.1" stroke="#000" stroke-width="4.2"/>
<line x1="118.7" y1="1539.2" x2="502.6" y2="1539.2" stroke="#000" stroke-width="4.2"/>
<line x1="159.9" y1="1478.5" x2="159.9" y2="1569" stroke="#000" stroke-width="3.8"/>
<line x1="219.0" y1="1478.5" x2="219.0" y2="1714.6" stroke="#000" stroke-width="4.0"/>
<line x1="355.0" y1="1478.5" x2="355.0" y2="1714.6" stroke="#000" stroke-width="4.0"/>
<line x1="443.3" y1="1478.5" x2="443.3" y2="1714.6" stroke="#000" stroke-width="4.0"/>
<line x1="502.6" y1="1478.5" x2="502.6" y2="1714.6" stroke="#000" stroke-width="4.0"/>
<line x1="915.5" y1="1569" x2="915.5" y2="1714.6" stroke="#000" stroke-width="4.0"/>
<line x1="915.5" y1="1599.0" x2="1196.0" y2="1599.0" stroke="#000" stroke-width="4.2"/>
<line x1="915.5" y1="1628.2" x2="1196.0" y2="1628.2" stroke="#000" stroke-width="4.2"/>
<line x1="1004.2" y1="1569" x2="1004.2" y2="1628.2" stroke="#000" stroke-width="4.0"/>
<line x1="1093.0" y1="1569" x2="1093.0" y2="1628.2" stroke="#000" stroke-width="4.0"/>
<text transform="translate(126.05 1566) scale(0.8308 1)" font-size="25" stroke="#000" stroke-width="0.36" fill="#000" text-rendering="geometricPrecision">Из</text>
<text transform="translate(166.02 1566) scale(0.8306 1)" font-size="25" stroke="#000" stroke-width="0.36" fill="#000" text-rendering="geometricPrecision">Лист</text>
<text transform="translate(243.28 1566) scale(0.8267 1)" font-size="25" stroke="#000" stroke-width="0.36" fill="#000" text-rendering="geometricPrecision">№ докум</text>
<text transform="translate(357.84 1566) scale(0.8269 1)" font-size="25" stroke="#000" stroke-width="0.36" fill="#000" text-rendering="geometricPrecision">Подпись</text>
<text transform="translate(449.14 1566) scale(0.8274 1)" font-size="25" stroke="#000" stroke-width="0.36" fill="#000" text-rendering="geometricPrecision">Дата</text>
<clipPath id="tc2"><rect x="0" y="0" width="1241" height="1596.9"/></clipPath>
<g clip-path="url(#tc2)"><text transform="translate(120.78 1595) scale(0.8285 1)" font-size="25" stroke="#000" stroke-width="0.36" fill="#000" text-rendering="geometricPrecision">Разраб</text></g>
<clipPath id="tc3"><rect x="0" y="0" width="1241" height="1627.0"/></clipPath>
<g clip-path="url(#tc3)"><text transform="translate(120.93 1625) scale(0.8082 1)" font-size="25" stroke="#000" stroke-width="0.36" fill="#000" text-rendering="geometricPrecision">Пров</text></g>
<clipPath id="tc4"><rect x="0" y="0" width="1241" height="1686.2"/></clipPath>
<g clip-path="url(#tc4)"><text transform="translate(120.51 1680) scale(0.8222 1)" font-size="25" stroke="#000" stroke-width="0.36" fill="#000" text-rendering="geometricPrecision">Н. Контр.</text></g>
<text transform="translate(120.67 1710) scale(0.8201 1)" font-size="25" stroke="#000" stroke-width="0.36" fill="#000" text-rendering="geometricPrecision">Утв</text>
<text transform="translate(689.59 1535) scale(0.8277 1)" font-size="33.33" stroke="#000" stroke-width="0.36" fill="#000" text-rendering="geometricPrecision">Схема расстановки МАФ</text>
<text transform="translate(519.07 1595) scale(0.8312 1)" font-size="25" stroke="#000" stroke-width="0.36" fill="#000" text-rendering="geometricPrecision">Благоустройство дворовых территорий</text>
<text transform="translate(591.39 1623) scale(0.8294 1)" font-size="25" stroke="#000" stroke-width="0.36" fill="#000" text-rendering="geometricPrecision">многоквартирных домов</text>
<text transform="translate(533.38 1652) scale(0.8306 1)" font-size="25" stroke="#000" stroke-width="0.36" fill="#000" text-rendering="geometricPrecision">Республика Бурятия, Кабанский р-н,</text>
<text transform="translate(528.76 1681) scale(0.8266 1)" font-size="25" stroke="#000" stroke-width="0.36" fill="#000" text-rendering="geometricPrecision">пгт.Селенгинск, мкр.Олимпийский,д.7</text>
<text transform="translate(926.06 1595) scale(0.8103 1)" font-size="25" stroke="#000" stroke-width="0.36" fill="#000" text-rendering="geometricPrecision">Литера</text>
<text transform="translate(1026.34 1595) scale(0.8263 1)" font-size="25" stroke="#000" stroke-width="0.36" fill="#000" text-rendering="geometricPrecision">Лист</text>
<text transform="translate(1111.34 1595) scale(0.8167 1)" font-size="25" stroke="#000" stroke-width="0.36" fill="#000" text-rendering="geometricPrecision">Листов</text>
<text transform="translate(974.83 1682) scale(0.8422 1)" font-size="28.2" stroke="#000" stroke-width="0.36" fill="#000" text-rendering="geometricPrecision">Дизайн-проект</text>
</svg>
</body>
</html>
